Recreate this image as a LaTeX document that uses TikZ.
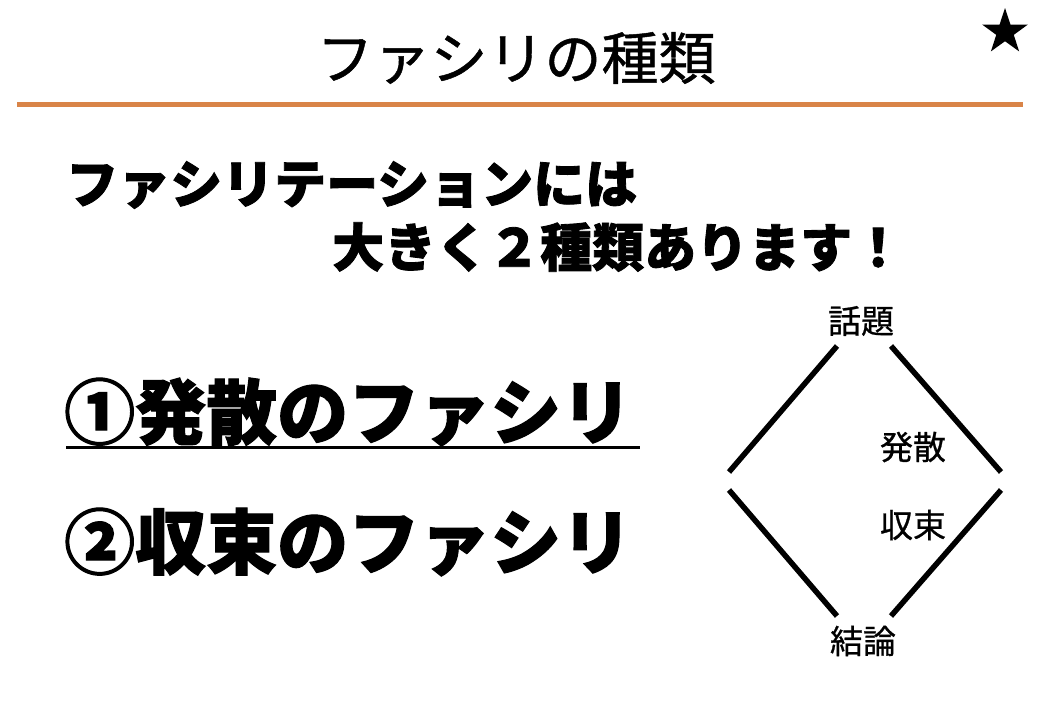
\documentclass[tikz,border=0pt]{standalone}
\usepackage{fontspec}
\setmainfont{Noto Sans CJK JP}
\newfontfamily\heavyfont[BoldFeatures={FakeBold=1.6}]{Noto Sans CJK JP}
\newfontfamily\mediumfont[FakeBold=0.8]{Noto Sans CJK JP}
\usetikzlibrary{positioning, shapes.geometric}
\definecolor{rulecolor}{RGB}{217,132,72}

\begin{document}
\begin{tikzpicture}[x=1pt, y=-1pt,
  heading/.style={font=\fontsize{52}{56}\selectfont\heavyfont\bfseries, anchor=west, inner sep=0pt},
  bigitem/.style={font=\fontsize{71}{75}\selectfont\heavyfont\bfseries, anchor=west, inner sep=0pt},
  steplabel/.style={font=\fontsize{33}{36}\selectfont\mediumfont, inner sep=0pt},
  diamondline/.style={line width=5.5pt}]
  \useasboundingbox (0,0) rectangle (1040,720);

  % Title
  \node[font=\fontsize{57}{60}\selectfont\mediumfont, inner sep=0pt] (title) at (516,58) {ファシリの種類};
  \node[star, star points=5, star point ratio=2.6, fill=black, minimum size=48pt, inner sep=0pt] (mark) at (1005,32) {};
  \draw[rulecolor, line width=5pt] (17,104) -- (1023,104);

  % Lead text
  \node[heading] (lead1) at (66,185) {ファシリテーションには};
  \node[heading] (lead2) at (332,247) {大きく２種類あります！};

  % Two kinds
  \node[bigitem] (kind1) at (64,412) {①発散のファシリ};
  \node[bigitem] (kind2) at (64,542) {②収束のファシリ};
  \draw[line width=3pt] (66,447) -- (640,447);

  % Diamond
  \node[steplabel] (topic) at (861,321) {話題};
  \node[steplabel] (goal) at (863,641) {結論};
  \node[steplabel] (diverge) at (913,447) {発散};
  \node[steplabel] (converge) at (913,525) {収束};
  \coordinate (tl) at (837,346);
  \coordinate (tr) at (891,346);
  \coordinate (bl) at (837,616);
  \coordinate (br) at (891,616);
  \coordinate (lu) at (729,472);
  \coordinate (ld) at (729,490);
  \coordinate (ru) at (1001,472);
  \coordinate (rd) at (1001,490);
  \draw[diamondline] (tl) -- (lu);
  \draw[diamondline] (tr) -- (ru);
  \draw[diamondline] (ld) -- (bl);
  \draw[diamondline] (rd) -- (br);
\end{tikzpicture}
\end{document}
